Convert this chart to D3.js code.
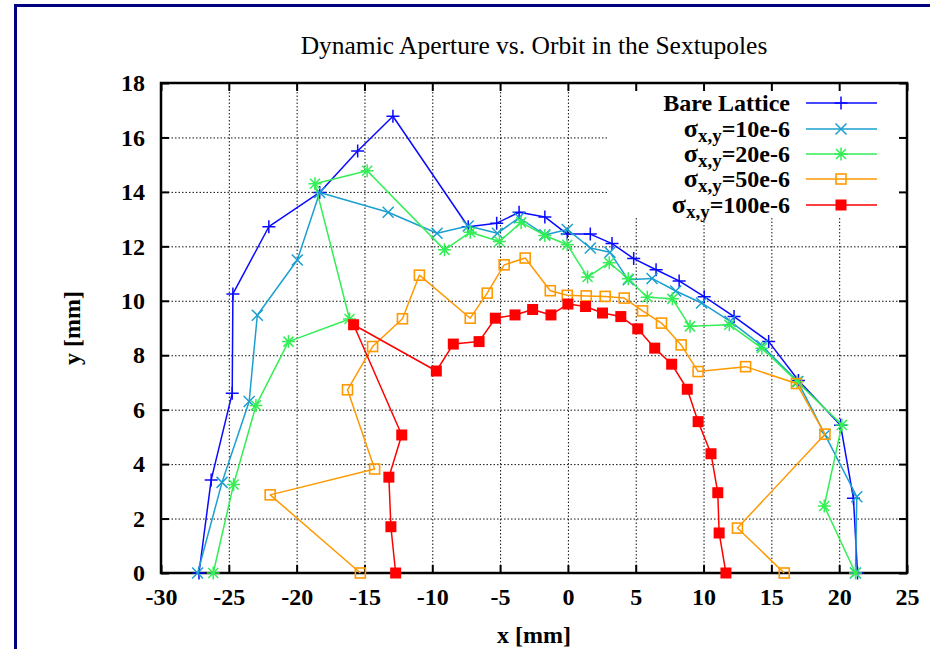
<!DOCTYPE html>
<html>
<head>
<meta charset="utf-8">
<script src="https://cdn.jsdelivr.net/npm/d3@7"></script>
<style>
  html, body { margin: 0; padding: 0; background: #fff; }
  svg { display: block; }
</style>
</head>
<body>
<script>
// ---- data: dynamic aperture boundary points (x [mm], y [mm]) ----
const bareX = [-27.2, -26.3, -24.75, -24.7, -22.05, -18.3, -15.5, -12.9, -7.35, -5.25, -3.6, -1.7, -0.05, 1.65, 3.25, 4.85, 6.5, 8.2, 10.05, 12.25, 14.8, 17.0, 20.1, 21.05, 21.35];
const bareY = [0, 3.42, 6.6, 10.25, 12.72, 13.98, 15.5, 16.78, 12.72, 12.85, 13.25, 13.08, 12.45, 12.45, 12.1, 11.55, 11.14, 10.73, 10.15, 9.42, 8.5, 7.07, 5.43, 2.75, 0];

const s10X = [-27.3, -25.5, -23.5, -22.9, -19.95, -18.3, -13.25, -9.65, -7.35, -5.2, -3.6, -1.7, -0.05, 1.65, 3.1, 4.45, 6.2, 7.95, 9.85, 11.95, 14.3, 16.95, 18.95, 21.3, 21.2];
const s10Y = [0, 3.33, 6.3, 9.47, 11.5, 13.98, 13.25, 12.48, 12.75, 12.48, 13.05, 12.42, 12.62, 11.94, 11.78, 10.77, 10.82, 10.36, 9.92, 9.25, 8.35, 7.03, 5.08, 2.8, 0];

const s20X = [-26.15, -24.65, -23.0, -20.6, -16.1, -18.65, -14.8, -9.1, -7.2, -5.05, -3.45, -1.7, -0.05, 1.45, 3.05, 4.45, 5.85, 7.7, 9.0, 11.9, 14.3, 16.9, 20.2, 18.9, 21.2];
const s20Y = [0, 3.25, 6.15, 8.5, 9.33, 14.3, 14.78, 11.87, 12.52, 12.18, 12.88, 12.4, 12.06, 10.87, 11.4, 10.81, 10.13, 10.07, 9.06, 9.12, 8.26, 7.03, 5.44, 2.46, 0];

const s50X = [-15.3, -21.95, -14.25, -16.25, -14.4, -12.2, -10.95, -7.2, -5.95, -4.7, -3.15, -1.3, -0.05, 1.35, 2.75, 4.15, 5.5, 6.9, 8.35, 9.6, 13.1, 16.85, 18.95, 12.5, 15.95];
const s50Y = [0, 2.87, 3.82, 6.73, 8.32, 9.34, 10.94, 9.36, 10.28, 11.32, 11.57, 10.37, 10.2, 10.18, 10.16, 10.1, 9.63, 9.18, 8.38, 7.4, 7.58, 6.96, 5.1, 1.65, 0];

const s100X = [-12.7, -13.05, -13.2, -12.25, -15.8, -9.7, -8.45, -6.55, -5.35, -3.9, -2.6, -1.25, 0.0, 1.3, 2.55, 3.9, 5.15, 6.4, 7.65, 8.8, 9.6, 10.55, 11.05, 11.15, 11.65];
const s100Y = [0, 1.7, 3.52, 5.07, 9.12, 7.42, 8.41, 8.5, 9.36, 9.48, 9.68, 9.48, 9.88, 9.79, 9.55, 9.42, 8.97, 8.26, 7.67, 6.75, 5.56, 4.38, 2.95, 1.47, 0];

const legendLabels = ["Bare Lattice", "10e-6", "20e-6", "50e-6", "100e-6"];
const seriesColors = ["#0a0aff", "#1b9fd0", "#33ee55", "#ff9900", "#ff0000"];
const seriesMarkers = ["plus", "cross", "star", "square", "filled"];

const xTickValues = [-30, -25, -20, -15, -10, -5, 0, 5, 10, 15, 20, 25];
const yTickValues = [0, 2, 4, 6, 8, 10, 12, 14, 16, 18];

const titleText = "Dynamic Aperture vs. Orbit in the Sextupoles";
const xLabel = "x [mm]";
const yLabel = "y [mm]";

// ---- layout ----
const W = 930, H = 649;
const plot = { left: 161, right: 907, top: 83, bottom: 573 };
const FONT = "'Liberation Serif', 'Times New Roman', serif";
const fmt = d => String(d);   // plain hyphen-minus for negative ticks

const svg = d3.select("body").append("svg")
  .attr("width", W).attr("height", H)
  .style("font-family", FONT);

svg.append("rect").attr("width", W).attr("height", H).attr("fill", "#fff");

// outer navy frame
svg.append("path")
  .attr("d", `M15.5,${H + 5}V5.5H${W + 5}`)
  .attr("fill", "none").attr("stroke", "#000080").attr("stroke-width", 3);

const x = d3.scaleLinear().domain([-30, 25]).range([plot.left, plot.right]);
const y = d3.scaleLinear().domain([0, 18]).range([plot.bottom, plot.top]);

// ---- grid ----
const gridStyle = g => {
  g.select(".domain").remove();
  g.selectAll("line").attr("stroke", "#111").attr("stroke-width", 1).attr("stroke-dasharray", "1.5,2");
};
svg.append("g")
  .attr("transform", `translate(0,${plot.bottom})`)
  .call(d3.axisBottom(x).tickValues(xTickValues).tickSize(-(plot.bottom - plot.top)).tickFormat(""))
  .call(gridStyle);
svg.append("g")
  .attr("transform", `translate(${plot.left},0)`)
  .call(d3.axisLeft(y).tickValues(yTickValues).tickSize(-(plot.right - plot.left)).tickFormat(""))
  .call(gridStyle);

// keep the key area clear of the grid
svg.append("rect")
  .attr("x", 607).attr("y", plot.top + 1)
  .attr("width", plot.right - 607 - 1).attr("height", 218 - plot.top - 1)
  .attr("fill", "#fff");

// ---- axes (inward ticks on all four sides) ----
const tickStyle = g => {
  g.select(".domain").remove();
  g.selectAll("line").attr("stroke", "#000").attr("stroke-width", 2);
  g.selectAll("text")
    .attr("fill", "#000")
    .style("font-family", FONT)
    .style("font-size", "24px")
    .style("font-weight", "bold");
};
svg.append("g")
  .attr("transform", `translate(0,${plot.bottom})`)
  .call(d3.axisBottom(x).tickValues(xTickValues).tickFormat(fmt).tickSize(-8).tickPadding(15))
  .call(tickStyle);
svg.append("g")
  .attr("transform", `translate(0,${plot.top})`)
  .call(d3.axisTop(x).tickValues(xTickValues).tickSize(-8).tickFormat(""))
  .call(tickStyle);
svg.append("g")
  .attr("transform", `translate(${plot.left},0)`)
  .call(d3.axisLeft(y).tickValues(yTickValues).tickFormat(fmt).tickSize(-8).tickPadding(16))
  .call(tickStyle);
svg.append("g")
  .attr("transform", `translate(${plot.right},0)`)
  .call(d3.axisRight(y).tickValues(yTickValues).tickSize(-8).tickFormat(""))
  .call(tickStyle);

svg.append("rect")
  .attr("x", plot.left).attr("y", plot.top)
  .attr("width", plot.right - plot.left).attr("height", plot.bottom - plot.top)
  .attr("fill", "none").attr("stroke", "#000").attr("stroke-width", 2.5);

// ---- titles ----
svg.append("text")
  .attr("x", 534).attr("y", 54)
  .attr("text-anchor", "middle")
  .style("font-size", "25.5px")
  .text(titleText);

svg.append("text")
  .attr("x", 534).attr("y", 643)
  .attr("text-anchor", "middle")
  .style("font-size", "24px").style("font-weight", "bold")
  .text(xLabel);

svg.append("text")
  .attr("transform", "translate(80,328) rotate(-90)")
  .attr("text-anchor", "middle")
  .style("font-size", "24px").style("font-weight", "bold")
  .text(yLabel);

// ---- markers ----
function drawMarker(g, type, color) {
  if (type === "plus") {
    g.append("path").attr("d", "M-6.5,0H6.5M0,-6.5V6.5")
      .attr("stroke", color).attr("stroke-width", 1.5).attr("fill", "none");
  } else if (type === "cross") {
    g.append("path").attr("d", "M-5.5,-5.5L5.5,5.5M-5.5,5.5L5.5,-5.5")
      .attr("stroke", color).attr("stroke-width", 1.5).attr("fill", "none");
  } else if (type === "star") {
    g.append("path").attr("d", "M-6.5,0H6.5M0,-6.5V6.5M-5,-5L5,5M-5,5L5,-5")
      .attr("stroke", color).attr("stroke-width", 1.5).attr("fill", "none");
  } else if (type === "square") {
    g.append("rect").attr("x", -5).attr("y", -5).attr("width", 10).attr("height", 10)
      .attr("stroke", color).attr("stroke-width", 1.6).attr("fill", "none");
  } else {
    g.append("rect").attr("x", -5.5).attr("y", -5.5).attr("width", 11).attr("height", 11)
      .attr("fill", color);
  }
}

// ---- series ----
const seriesXs = [bareX, s10X, s20X, s50X, s100X];
const seriesYs = [bareY, s10Y, s20Y, s50Y, s100Y];

const line = d3.line().x(d => x(d[0])).y(d => y(d[1]));

seriesXs.forEach((xs, i) => {
  const pts = xs.map((v, j) => [v, seriesYs[i][j]]);
  const g = svg.append("g");
  g.append("path")
    .attr("d", line(pts))
    .attr("fill", "none")
    .attr("stroke", seriesColors[i])
    .attr("stroke-width", 1.5)
    .attr("stroke-linejoin", "round");
  pts.forEach(p => {
    const m = g.append("g").attr("transform", `translate(${x(p[0])},${y(p[1])})`);
    drawMarker(m, seriesMarkers[i], seriesColors[i]);
  });
});

// ---- key ----
const rowY = [103, 129, 154, 179, 205];
const key = svg.append("g");
legendLabels.forEach((lab, i) => {
  const cy = rowY[i];
  const t = key.append("text")
    .attr("x", 790).attr("y", cy + 8)
    .attr("text-anchor", "end")
    .style("font-size", "24px").style("font-weight", "bold");
  if (i === 0) {
    t.text(lab);
  } else {
    t.append("tspan").style("font-size", "26px").text("\u03C3");
    t.append("tspan").attr("dy", 5).style("font-size", "19px").text("x,y");
    t.append("tspan").attr("dy", -5).text("=" + lab);
  }
  key.append("line")
    .attr("x1", 806).attr("x2", 877).attr("y1", cy).attr("y2", cy)
    .attr("stroke", seriesColors[i]).attr("stroke-width", 1.5);
  const m = key.append("g").attr("transform", `translate(841,${cy})`);
  drawMarker(m, seriesMarkers[i], seriesColors[i]);
});
</script>
</body>
</html>
